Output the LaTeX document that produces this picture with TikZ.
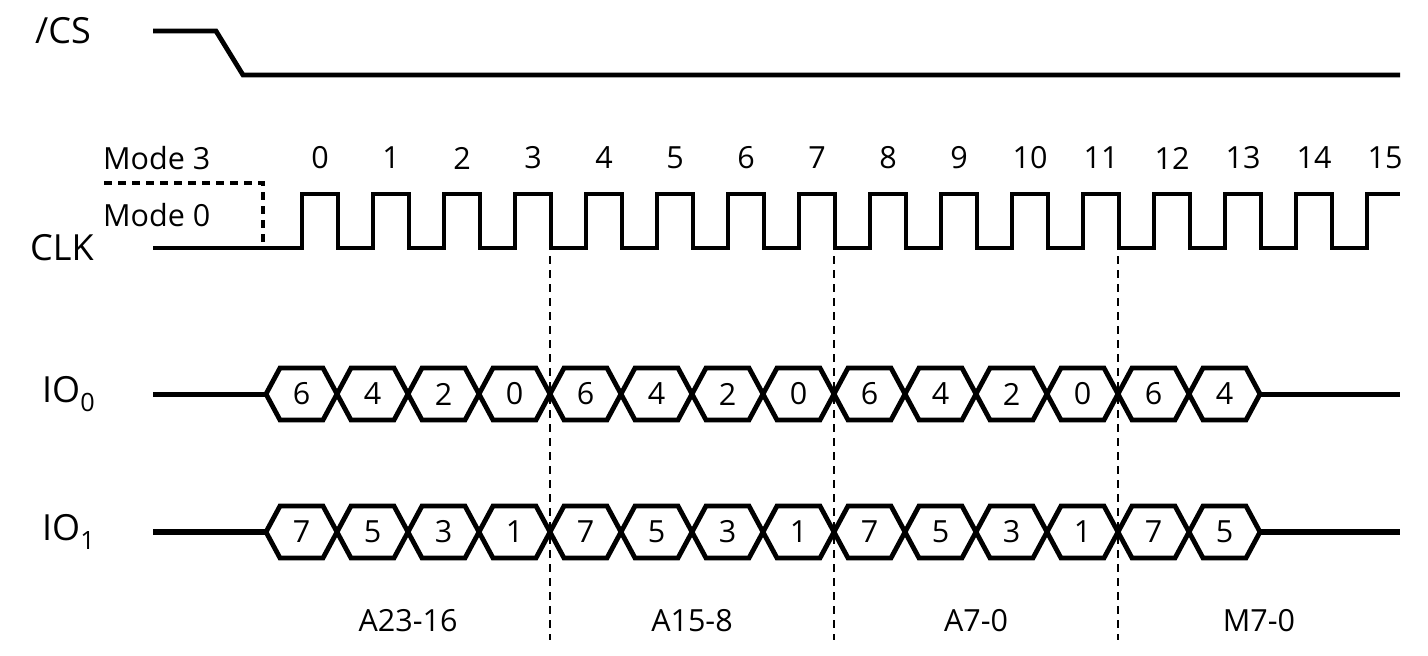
\documentclass[tikz,border=0pt]{standalone}
\usepackage{fontspec}
\setmainfont{Open Sans}
\begin{document}
\begin{tikzpicture}[x=1pt,y=-1pt,
  sig/.style={line width=4.8pt,line join=miter},
  sigthick/.style={line width=6.5pt},
  hexo/.style={line width=4.8pt,line join=miter},
  guide/.style={line width=2.2pt,dash pattern=on 8pt off 6pt},
  modeline/.style={line width=3.8pt,dash pattern=on 8pt off 6pt},
  biglbl/.style={font=\fontsize{36}{36}\selectfont,inner sep=0pt},
  smalllbl/.style={font=\fontsize{30.5}{30.5}\selectfont,inner sep=0pt}]
\useasboundingbox (0,0) rectangle (1428,656);
% labels
\node[biglbl,anchor=west] (lcs) at (35,31) {/CS};
\node[biglbl,anchor=west] (lclk) at (30,248) {CLK};
\node[biglbl,anchor=west] (lio0) at (42,394) {IO\textsubscript{0}};
\node[biglbl,anchor=west] (lio1) at (42,532) {IO\textsubscript{1}};
\node[smalllbl,anchor=west] (lm3) at (103,158) {Mode 3};
\node[smalllbl,anchor=west] (lm0) at (103,215) {Mode 0};
% /CS
\draw[sig] (153,31) -- (216,31) -- (243,75) -- (1400,75);
% mode dashed
\draw[modeline] (104,183) -- (263,183) -- (263,248);
% clock
\draw[sig] (153,248)
  \foreach \k in {0,...,14} { -- ({302+71*\k},248) -- ({302+71*\k},194) -- ({338+71*\k},194) -- ({338+71*\k},248) }
  -- (1367,248) -- (1367,194) -- (1400,194);
\foreach \k in {0,...,15} {
  \node[smalllbl] (n\k) at ({320+71*\k},158) {\k};
}
% IO lines
\draw[line width=5pt] (153,394) -- (266,394);
\draw[line width=5pt] (1260,394) -- (1400,394);
\draw[sigthick] (153,532) -- (266,532);
\draw[sigthick] (1260,532) -- (1400,532);
% hexes
\foreach \d [count=\i from 0] in {6,4,2,0,6,4,2,0,6,4,2,0,6,4} {
  \draw[hexo] ({266+71*\i},394) -- ({280+71*\i},368) -- ({323+71*\i},368) -- ({337+71*\i},394) -- ({323+71*\i},420) -- ({280+71*\i},420) -- cycle;
  \node[smalllbl] (a\i) at ({301.5+71*\i},394) {\d};
}
\foreach \d [count=\i from 0] in {7,5,3,1,7,5,3,1,7,5,3,1,7,5} {
  \draw[hexo] ({266+71*\i},532) -- ({280+71*\i},506) -- ({323+71*\i},506) -- ({337+71*\i},532) -- ({323+71*\i},558) -- ({280+71*\i},558) -- cycle;
  \node[smalllbl] (b\i) at ({301.5+71*\i},532) {\d};
}
% guides
\foreach \x in {550,834,1118} {
  \draw[guide] (\x,256) -- (\x,640);
}
\node[smalllbl] (g1) at (408,621) {A23-16};
\node[smalllbl] (g2) at (692,621) {A15-8};
\node[smalllbl] (g3) at (976,621) {A7-0};
\node[smalllbl] (g4) at (1259,621) {M7-0};
\end{tikzpicture}
\end{document}
